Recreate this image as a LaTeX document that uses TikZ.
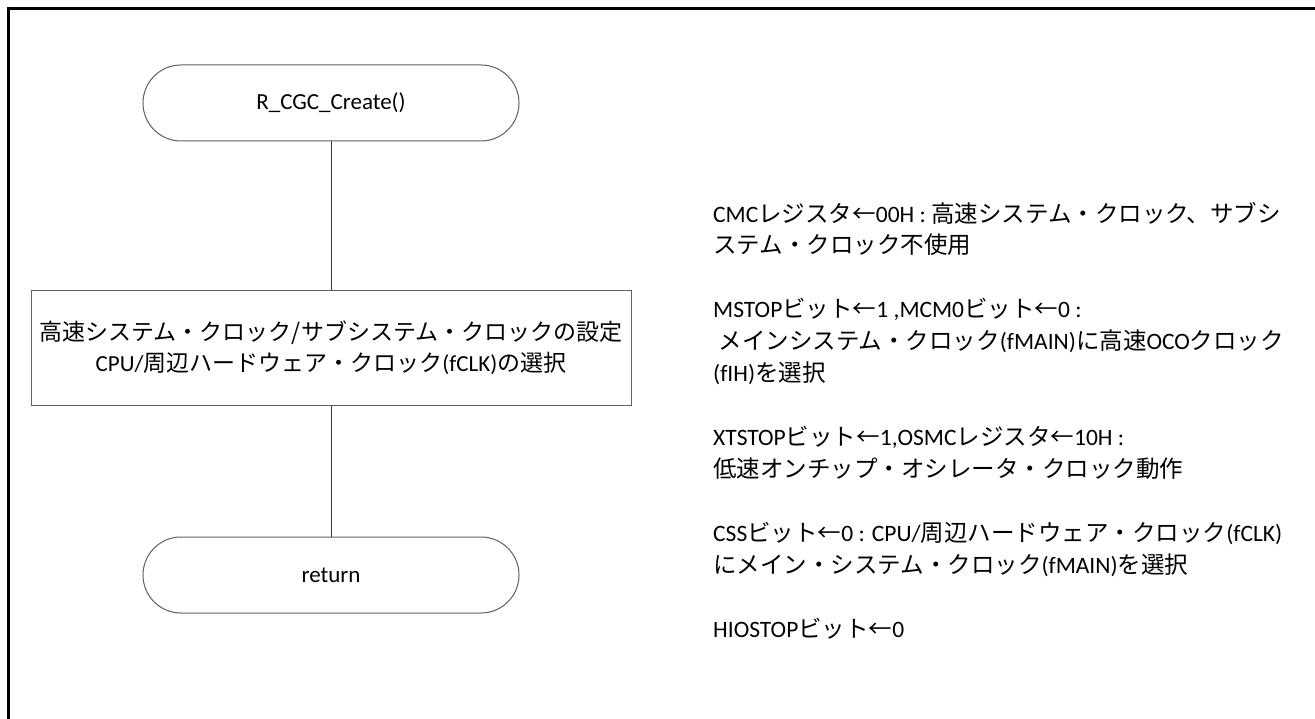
\documentclass[tikz,border=0pt]{standalone}
\usepackage{fontspec}
\setmainfont{Carlito}
\newfontfamily\jpfont{Noto Sans CJK JP}
\newcommand\jj[1]{{\jpfont #1}}
\begin{document}
\begin{tikzpicture}[x=1pt,y=-1pt,
  every node/.style={inner sep=0pt},
  frame/.style={line width=3pt, black},
  term/.style={draw=black!62, line width=1pt, rectangle, rounded corners=38pt, minimum width=376pt, minimum height=76pt, font=\fontsize{23}{30}\selectfont},
  procbox/.style={draw=black!62, line width=1pt, rectangle, minimum width=600pt, minimum height=114pt, align=center, font=\fontsize{23}{31}\selectfont},
  conn/.style={draw=black!80, line width=1pt},
  note/.style={anchor=west, font=\fontsize{23.5}{30}\selectfont}
]
\useasboundingbox (0,0) rectangle (1315,719);
\coordinate (fa) at (8,719);
\coordinate (fb) at (8,9);
\coordinate (fc) at (1315,9);
\draw[frame] (fa) -- (fb) -- (fc);

\node[term] (start) at (331,103) {R\_CGC\_Create()};
\node[procbox] (proc) at (331,348) {\jj{高速システム・クロック/サブシステム・クロックの設定}\\CPU/\jj{周辺ハードウェア・クロック}(fCLK)\jj{の選択}};
\node[term] (ret) at (331,575) {return};
\draw[conn] (start) -- (proc);
\draw[conn] (proc) -- (ret);

\node[note] (n1) at (713,213) {CMC\jj{レジスタ←}00H : \jj{高速システム・クロック、サブシ}};
\node[note] (n2) at (713,245) {\jj{ステム・クロック不使用}};
\node[note] (n3) at (713,309) {MSTOP\jj{ビット←}1 ,MCM0\jj{ビット←}0 :};
\node[note] (n4) at (713,341) {\ \jj{メインシステム・クロック}(fMAIN)\jj{に高速}OCO\jj{クロック}};
\node[note] (n5) at (713,373) {(fIH)\jj{を選択}};
\node[note] (n6) at (713,437) {XTSTOP\jj{ビット←}1,OSMC\jj{レジスタ←}10H :};
\node[note] (n7) at (713,469) {\jj{低速オンチップ・オシレータ・クロック動作}};
\node[note] (n8) at (713,533) {CSS\jj{ビット←}0 : CPU/\jj{周辺ハードウェア・クロック}(fCLK)};
\node[note] (n9) at (713,565) {\jj{にメイン・システム・クロック}(fMAIN)\jj{を選択}};
\node[note] (n10) at (713,629) {HIOSTOP\jj{ビット←}0};
\end{tikzpicture}
\end{document}
